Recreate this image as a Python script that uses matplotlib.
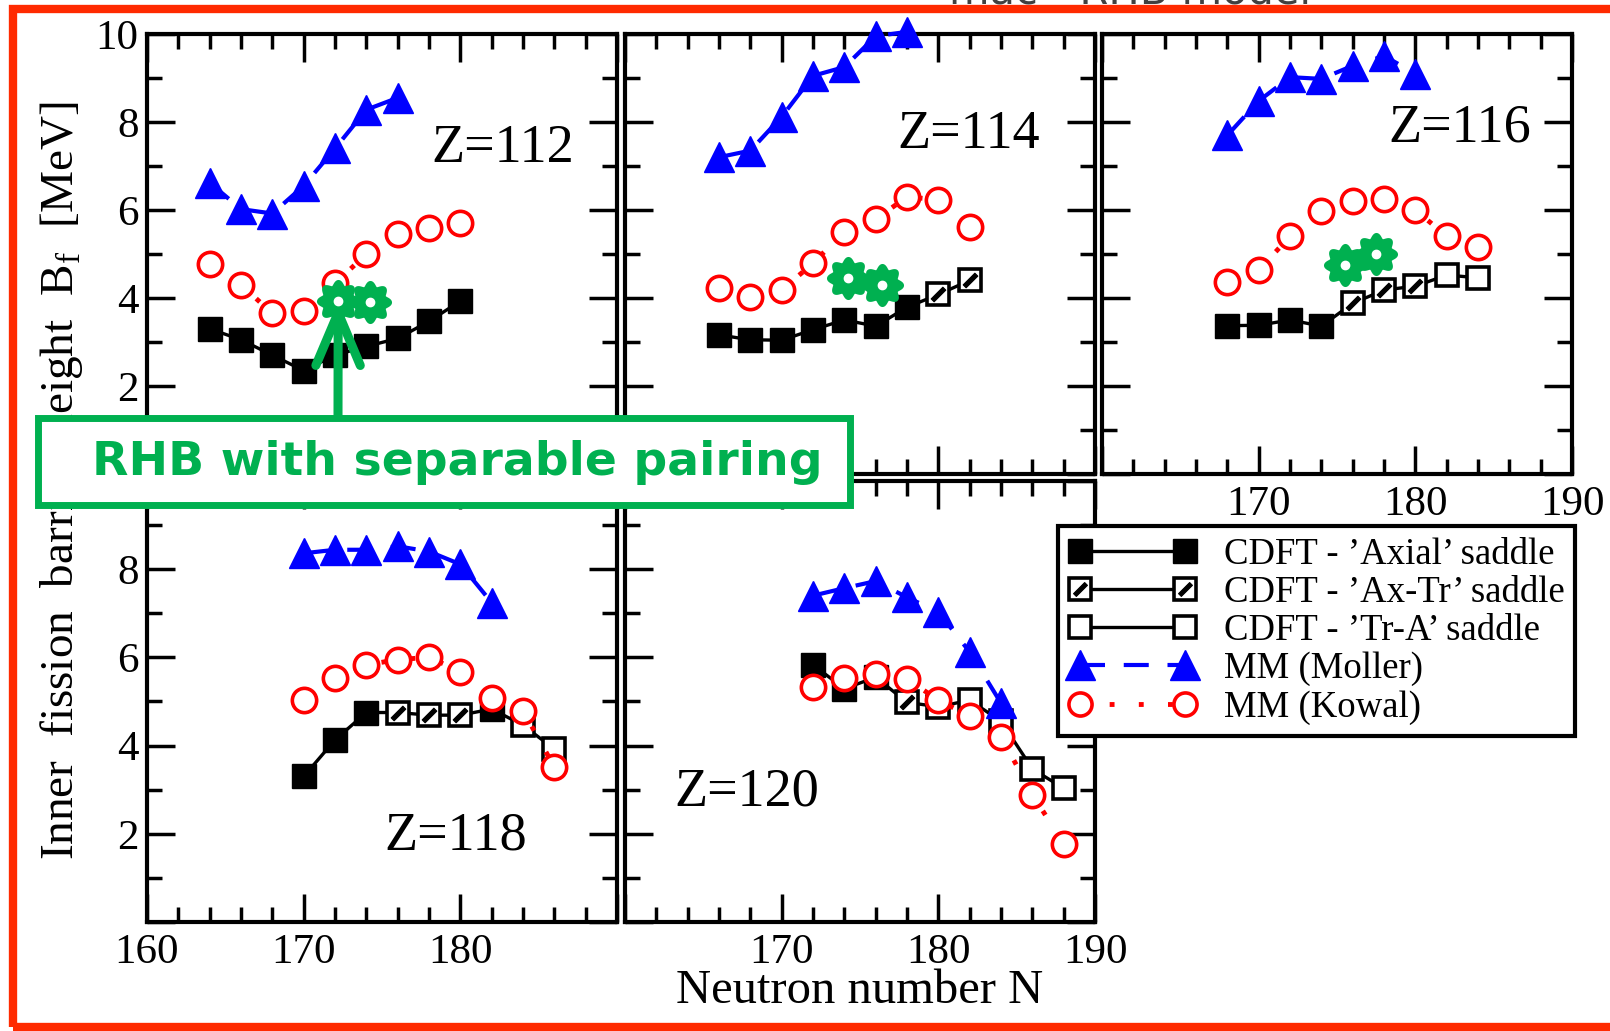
import numpy as np
import matplotlib
matplotlib.use("Agg")
import matplotlib.pyplot as plt
from matplotlib.lines import Line2D
from matplotlib.patches import Rectangle
from matplotlib.path import Path
from matplotlib.legend_handler import HandlerTuple

plt.rcParams["font.family"] = ["Liberation Serif", "DejaVu Serif"]
plt.rcParams["mathtext.fontset"] = "custom"
plt.rcParams["mathtext.rm"] = "Liberation Serif"

GREEN = "#00b050"
BLUE = "#0000ff"
RED = "#ff0000"

# --- data (A = 'Axial', X = 'Ax-Tr', T = 'Tr-A') ---
n112 = [164, 166, 168, 170, 172, 174, 176, 178, 180]
cdft112 = [3.30, 3.05, 2.70, 2.35, 2.70, 2.90, 3.08, 3.47, 3.93]
kind112 = "AAAAAAAAA"
mm_n112 = [164, 166, 168, 170, 172, 174, 176]
moller112 = [6.62, 6.02, 5.92, 6.55, 7.40, 8.28, 8.55]
kowal112 = [4.78, 4.30, 3.65, 3.70, 4.33, 5.00, 5.45, 5.58, 5.70]
rhb_n112 = [172.2, 174.2]
rhb112 = [3.93, 3.90]

n114 = [166, 168, 170, 172, 174, 176, 178, 180, 182]
cdft114 = [3.16, 3.05, 3.04, 3.28, 3.50, 3.36, 3.79, 4.08, 4.40]
kind114 = "AAAAAAAXX"
mm_n114 = [166, 168, 170, 172, 174, 176, 178]
moller114 = [7.20, 7.35, 8.12, 9.05, 9.25, 9.95, 10.05]
kowal114 = [4.22, 4.02, 4.18, 4.79, 5.51, 5.79, 6.30, 6.23, 5.62]
rhb_n114 = [174.2, 176.4]
rhb114 = [4.46, 4.29]

n116 = [168, 170, 172, 174, 176, 178, 180, 182, 184]
cdft116 = [3.37, 3.38, 3.50, 3.36, 3.88, 4.18, 4.27, 4.52, 4.46]
kind116 = "AAAAXXXTT"
mm_n116 = [168, 170, 172, 174, 176, 178, 180]
moller116 = [7.70, 8.48, 9.02, 8.98, 9.28, 9.50, 9.10]
kowal116 = [4.37, 4.64, 5.40, 5.98, 6.20, 6.24, 6.00, 5.40, 5.15]
rhb_n116 = [175.5, 177.5]
rhb116 = [4.75, 5.00]

n118 = [170, 172, 174, 176, 178, 180, 182, 184, 186]
cdft118 = [3.30, 4.13, 4.75, 4.75, 4.69, 4.69, 4.83, 4.46, 3.92]
kind118 = "AAAXXXATT"
mm_n118 = [170, 172, 174, 176, 178, 180, 182]
moller118 = [8.36, 8.44, 8.44, 8.52, 8.40, 8.11, 7.24]
kowal118 = [5.04, 5.54, 5.83, 5.95, 6.00, 5.68, 5.08, 4.79, 3.51]

n120 = [172, 174, 176, 178, 180, 182, 184, 186, 188]
cdft120 = [5.83, 5.29, 5.55, 4.98, 4.88, 5.03, 4.55, 3.47, 3.03]
kind120 = "AAAXTTTTT"
mm_n120 = [172, 174, 176, 178, 180, 182, 184]
moller120 = [7.40, 7.57, 7.73, 7.36, 7.03, 6.12, 4.96]
kowal120 = [5.32, 5.54, 5.62, 5.51, 5.03, 4.67, 4.20, 2.89, 1.77]

legend_labels = ["CDFT - \u2019Axial\u2019 saddle", "CDFT - \u2019Ax-Tr\u2019 saddle",
                 "CDFT - \u2019Tr-A\u2019 saddle", "MM (Moller)", "MM (Kowal)"]

# --- marker shapes ---
theta = np.linspace(0, 2 * np.pi, 241)
rad = 1 + 0.14 * np.cos(8 * theta)
FLOWER = Path(np.column_stack([rad * np.cos(theta), rad * np.sin(theta)]), closed=True)
SLASH = Path([(-0.5, -0.3), (-0.3, -0.5), (0.5, 0.3), (0.3, 0.5), (-0.5, -0.3)], closed=True)

STY_A = dict(ls="none", marker="s", ms=17.5, mfc="k", mec="k", mew=1)
STY_T = dict(ls="none", marker="s", ms=16, mfc="white", mec="k", mew=2.6)
STY_S = dict(ls="none", marker=SLASH, ms=10.5, mfc="k", mec="k", mew=0.8)
STY_MO = dict(color=BLUE, ls=(0, (6, 4.5)), lw=3, marker="^", ms=22, mfc=BLUE, mec=BLUE)
STY_KO = dict(color=RED, ls=(0, (1, 5)), lw=3.5, marker="o", ms=17.5, mfc="white",
              mec=RED, mew=2.6)


def draw_panel(ax, n, cdft, kinds, mm_n, moller, kowal, rhb_n=None, rhb=None):
    ax.plot(n, cdft, "-", color="k", lw=2.4, zorder=2)
    for k, sty in (("A", STY_A), ("X", STY_T), ("T", STY_T)):
        xs = [x for x, kk in zip(n, kinds) if kk == k]
        ys = [y for y, kk in zip(cdft, kinds) if kk == k]
        if not xs:
            continue
        ax.plot(xs, ys, zorder=3, clip_on=False, **sty)
        if k == "X":
            ax.plot(xs, ys, zorder=3, clip_on=False, **STY_S)
    ax.plot(mm_n, moller, zorder=4, clip_on=False, **STY_MO)
    ax.plot(n, kowal, zorder=5, clip_on=False, **STY_KO)
    if rhb_n is not None:
        ax.plot(rhb_n, rhb, ls="none", marker=FLOWER, ms=29, mfc=GREEN, mec=GREEN,
                mew=2, zorder=6)
        ax.plot(rhb_n, rhb, ls="none", marker="o", ms=6, mfc="white", mec="white",
                zorder=6)


def style_axes(ax, xlabels, ylabels):
    ax.set_xlim(160, 190)
    ax.set_ylim(0, 10)
    ax.set_xticks([160, 170, 180, 190])
    ax.set_xticks(np.arange(160, 191, 2), minor=True)
    ax.set_yticks([0, 2, 4, 6, 8, 10])
    ax.set_yticks(np.arange(0, 11, 1), minor=True)
    ax.set_xticklabels(xlabels)
    ax.set_yticklabels(ylabels)
    ax.tick_params(which="both", direction="in", top=True, right=True, width=2.5,
                   labelsize=31, color="k")
    ax.tick_params(which="major", length=20)
    ax.tick_params(which="minor", length=11)
    ax.tick_params(axis="x", pad=8)
    ax.tick_params(axis="y", pad=6)
    for sp in ax.spines.values():
        sp.set_linewidth(3)


fig = plt.figure(figsize=(16.1, 10.31), dpi=100)

cols = [0.0913, 0.3882, 0.6845]
w = 0.292
top_b, top_h = 0.5403, 0.4267
bot_b, bot_h = 0.1057, 0.4278

no_x = ["", "", "", ""]
no_y = ["", "", "", "", "", ""]

ax112 = fig.add_axes([cols[0], top_b, w, top_h])
ax114 = fig.add_axes([cols[1], top_b, w, top_h])
ax116 = fig.add_axes([cols[2], top_b, w, top_h])
ax118 = fig.add_axes([cols[0], bot_b, w, bot_h])
ax120 = fig.add_axes([cols[1], bot_b, w, bot_h])

draw_panel(ax112, n112, cdft112, kind112, mm_n112, moller112, kowal112, rhb_n112, rhb112)
draw_panel(ax114, n114, cdft114, kind114, mm_n114, moller114, kowal114, rhb_n114, rhb114)
draw_panel(ax116, n116, cdft116, kind116, mm_n116, moller116, kowal116, rhb_n116, rhb116)
draw_panel(ax118, n118, cdft118, kind118, mm_n118, moller118, kowal118)
draw_panel(ax120, n120, cdft120, kind120, mm_n120, moller120, kowal120)

style_axes(ax112, no_x, ["", "2", "4", "6", "8", "10"])
style_axes(ax114, no_x, no_y)
style_axes(ax116, ["", "170", "180", "190"], no_y)
style_axes(ax118, ["160", "170", "180", ""], ["", "2", "4", "6", "8", ""])
style_axes(ax120, ["", "170", "180", "190"], no_y)

ax112.text(182.7, 7.4, "Z=112", fontsize=39, ha="center", va="center")
ax114.text(181.9, 7.7, "Z=114", fontsize=39, ha="center", va="center")
ax116.text(182.8, 7.85, "Z=116", fontsize=39, ha="center", va="center")
ax118.text(179.7, 1.95, "Z=118", fontsize=39, ha="center", va="center")
ax120.text(167.8, 2.95, "Z=120", fontsize=39, ha="center", va="center")

fig.text(62 / 1610, 1 - 480 / 1031,
         "Inner  fission  barrier  height  B$_{\\rm f}$  [MeV]",
         rotation=90, fontsize=34, ha="center", va="center")
fig.text(860 / 1610, 1 - 991 / 1031, "Neutron number N", fontsize=35,
         ha="center", va="center")

# legend
h_ax = Line2D([], [], color="k", lw=2.4, **{k: v for k, v in STY_A.items() if k != "ls"})
h_xt = (Line2D([], [], color="k", lw=2.4, **{k: v for k, v in STY_T.items() if k != "ls"}),
        Line2D([], [], **STY_S))
h_tr = Line2D([], [], color="k", lw=2.4, **{k: v for k, v in STY_T.items() if k != "ls"})
h_mo = Line2D([], [], **STY_MO)
h_ko = Line2D([], [], **STY_KO)
leg = fig.legend([h_ax, h_xt, h_tr, h_mo, h_ko], legend_labels, loc="upper left",
                 bbox_to_anchor=(1058 / 1610, 1 - 526 / 1031), bbox_transform=fig.transFigure,
                 frameon=True, fancybox=False, edgecolor="k", framealpha=1, fontsize=26.5,
                 numpoints=2, handlelength=3.45, handletextpad=0.75, labelspacing=0.1,
                 borderpad=0.3, borderaxespad=0, markerscale=0.95,
                 handler_map={tuple: HandlerTuple(ndivide=1)})
leg.get_frame().set_linewidth(3)
leg.set_zorder(8)

# annotation box and arrow
ax112.annotate("", xy=(rhb_n112[0], rhb112[0]), xycoords="data",
               xytext=(338 / 1610, 1 - 418 / 1031), textcoords="figure fraction",
               arrowprops=dict(arrowstyle="->, head_length=1.9, head_width=0.8",
                               lw=6.5, color=GREEN, shrinkA=0, shrinkB=0,
                               mutation_scale=20),
               annotation_clip=False, zorder=7)
fig.add_artist(Rectangle((38 / 1610, 1 - 505 / 1031), (850 - 38) / 1610, (505 - 418) / 1031,
                         transform=fig.transFigure, fc="white", ec=GREEN, lw=5, zorder=10))
fig.text(457 / 1610, 1 - 463 / 1031, "RHB with separable pairing", color=GREEN,
         fontsize=34, fontweight="bold", family="DejaVu Sans", ha="center", va="center",
         zorder=11)

# slide frame and the cut-off title above it
fig.add_artist(Rectangle((13 / 1610, 1 - 1027 / 1031), 1.05, (1027 - 9) / 1031,
                         transform=fig.transFigure, fill=False, ec="#ff2a00", lw=6, zorder=12))
fig.text(1130 / 1610, 1 - 4 / 1031, "mac - RHB model", color="#404040", fontsize=30,
         family="DejaVu Sans", ha="center", va="baseline", zorder=12)

fig.savefig("out.png", dpi=100)
